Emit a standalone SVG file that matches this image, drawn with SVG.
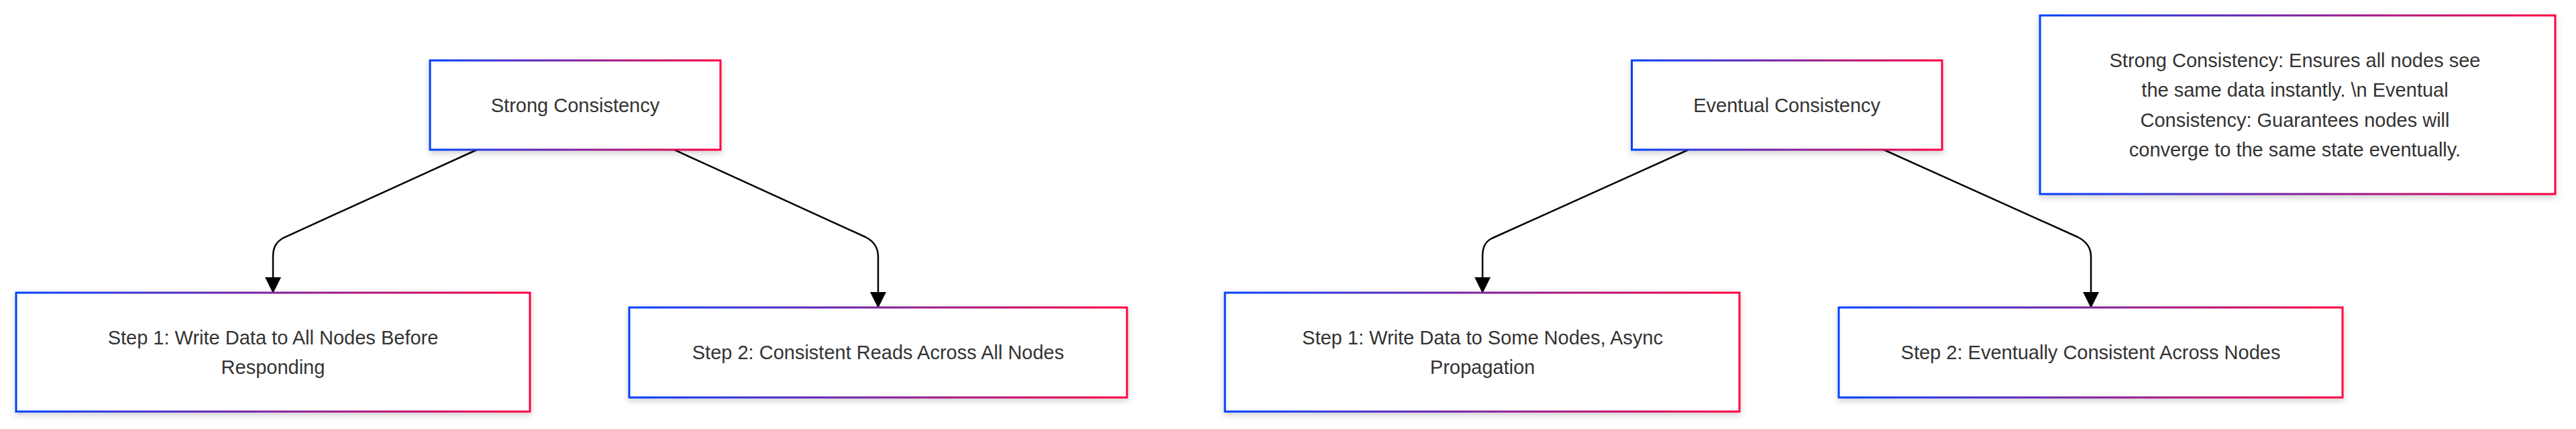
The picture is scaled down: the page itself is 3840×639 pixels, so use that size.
<svg xmlns="http://www.w3.org/2000/svg" width="3840" height="639" viewBox="0 0 3840 639">
  <defs>
    <linearGradient id="edge" x1="0" y1="0" x2="1" y2="0">
      <stop offset="0" stop-color="#0040ff"/>
      <stop offset="0.5" stop-color="#80209f"/>
      <stop offset="1" stop-color="#ff0040"/>
    </linearGradient>
    <filter id="shadow" x="-10%" y="-20%" width="120%" height="150%">
      <feDropShadow dx="0" dy="4" stdDeviation="5" flood-color="#000" flood-opacity="0.18"/>
    </filter>
    <marker id="arrow" markerUnits="userSpaceOnUse" markerWidth="24" markerHeight="24" viewBox="0 0 24 24" refX="23" refY="12" orient="auto">
      <path d="M0,0 L24,12 L0,24 Z" fill="#000"/>
    </marker>
    <style>
      .box { fill: #fff; stroke: url(#edge); stroke-width: 3; filter: url(#shadow); }
      .lbl { font-family: "Liberation Sans", Arial, sans-serif; font-size: 29px; fill: #333; text-anchor: middle; }
      .edge { fill: none; stroke: #000; stroke-width: 2.5; marker-end: url(#arrow); }
    </style>
  </defs>
  <rect width="3840" height="639" fill="#fff"/>

  <g id="connectors">
    <path class="edge" d="M711,223 L423,354 C412,360 407,368 407,382 L407,436"/>
    <path class="edge" d="M1005,223 L1290,353 C1302,359 1309,368 1309,382 L1309,458"/>
    <path class="edge" d="M2517,223 L2224,355 C2214,360 2210,368 2210,382 L2210,436"/>
    <path class="edge" d="M2808,223 L3097,353 C3109,359 3117,368 3117,382 L3117,458"/>
  </g>

  <g id="strong">
    <rect class="box" x="641" y="90" width="433" height="133"/>
    <text class="lbl" x="857.5" y="166.5">Strong Consistency</text>
  </g>
  <g id="strong-step1">
    <rect class="box" x="24" y="436" width="766" height="177"/>
    <text class="lbl" x="407" y="512.5">Step 1: Write Data to All Nodes Before</text>
    <text class="lbl" x="407" y="556.5">Responding</text>
  </g>
  <g id="strong-step2">
    <rect class="box" x="938" y="458" width="742" height="134"/>
    <text class="lbl" x="1309" y="535">Step 2: Consistent Reads Across All Nodes</text>
  </g>

  <g id="eventual">
    <rect class="box" x="2432.5" y="90" width="462.5" height="133"/>
    <text class="lbl" x="2663.7" y="166.5">Eventual Consistency</text>
  </g>
  <g id="eventual-step1">
    <rect class="box" x="1826" y="436" width="767" height="177"/>
    <text class="lbl" x="2210" y="512.5">Step 1: Write Data to Some Nodes, Async</text>
    <text class="lbl" x="2210" y="556.5">Propagation</text>
  </g>
  <g id="eventual-step2">
    <rect class="box" x="2741" y="458" width="751" height="134"/>
    <text class="lbl" x="3116.5" y="535">Step 2: Eventually Consistent Across Nodes</text>
  </g>

  <g id="note">
    <rect class="box" x="3041" y="23" width="768" height="266"/>
    <text class="lbl" x="3421" y="99.5">Strong Consistency: Ensures all nodes see</text>
    <text class="lbl" x="3421" y="144">the same data instantly. \n Eventual</text>
    <text class="lbl" x="3421" y="188.5">Consistency: Guarantees nodes will</text>
    <text class="lbl" x="3421" y="232.5">converge to the same state eventually.</text>
  </g>
</svg>
